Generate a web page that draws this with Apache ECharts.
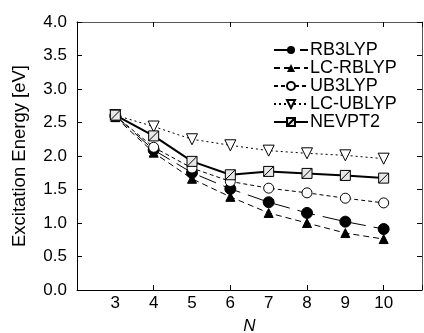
<!DOCTYPE html>
<html><head><meta charset="utf-8">
<script src="https://cdn.jsdelivr.net/npm/echarts@6/dist/echarts.min.js"></script>
<style>html,body{margin:0;padding:0;background:#fff}#c{width:424px;height:333px}</style>
</head><body><div id="c"></div>
<script>
var N = [3, 4, 5, 6, 7, 8, 9, 10];
var RB3LYP   = [2.60, 2.09, 1.75, 1.51, 1.31, 1.15, 1.02, 0.91];
var LC_RBLYP = [2.58, 2.05, 1.66, 1.39, 1.15, 1.00, 0.85, 0.76];
var UB3LYP   = [2.60, 2.13, 1.82, 1.62, 1.52, 1.45, 1.37, 1.30];
var LC_UBLYP = [2.61, 2.44, 2.25, 2.16, 2.08, 2.04, 2.01, 1.96];
var NEVPT2   = [2.61, 2.30, 1.92, 1.72, 1.77, 1.74, 1.71, 1.67];
var names = ['RB3LYP', 'LC-RBLYP', 'UB3LYP', 'LC-UBLYP', 'NEVPT2'];
var yTicks = ['0.0','0.5','1.0','1.5','2.0','2.5','3.0','3.5','4.0'];

function pairs(arr){ return N.map(function(n,i){ return [n, arr[i]]; }); }
var font = 'Liberation Sans, Arial, sans-serif';
var sq = 'path://M0,0 L10,0 L10,10 L0,10 Z M0,10 L10,0';

var chart = echarts.init(document.getElementById('c'));
chart.setOption({
  animation: false,
  backgroundColor: '#fff',
  grid: { left: 77, right: 2, top: 22, bottom: 43, containLabel: false, outerBoundsMode: 'none' },
  legend: {
    orient: 'vertical', left: 268, top: 36,
    itemWidth: 34, itemHeight: 10, itemGap: 0,
    textStyle: { fontFamily: font, fontSize: 18, lineHeight: 15.5, color: '#000', padding: [0,0,0,-3] },
    data: names
  },
  xAxis: [
    { type: 'value', min: 2, max: 11, interval: 1, position: 'bottom',
      axisLine: { lineStyle: { color: '#000', width: 1 } },
      axisTick: { show: false }, splitLine: { show: false },
      axisLabel: { fontFamily: font, fontSize: 17, color: '#000', margin: 5,
        formatter: function(v){ return (v >= 3 && v <= 10) ? String(v) : ''; } },
      name: 'N', nameLocation: 'middle', nameGap: 28,
      nameTextStyle: { fontFamily: font, fontSize: 17, fontStyle: 'italic', color: '#000' } },
    { type: 'value', min: 2, max: 11, interval: 2, position: 'bottom',
      axisLine: { show: false }, axisLabel: { show: false }, splitLine: { show: false },
      axisTick: { inside: true, length: 5, lineStyle: { color: '#000' } } },
    { type: 'value', min: 2, max: 11, interval: 2, position: 'top',
      axisLine: { show: true, lineStyle: { color: '#555' } }, axisLabel: { show: false }, splitLine: { show: false },
      axisTick: { inside: true, length: 5, lineStyle: { color: '#000' } } }
  ],
  yAxis: [
    { type: 'value', min: 0, max: 4, interval: 0.5, position: 'left',
      axisLine: { show: true, lineStyle: { color: '#000' } },
      axisTick: { show: true, inside: true, length: 5, lineStyle: { color: '#000' } },
      splitLine: { show: false },
      axisLabel: { fontFamily: font, fontSize: 17, color: '#000', margin: 10,
        formatter: function(v){ return yTicks[Math.round(v*2)]; } },
      name: 'Excitation Energy [eV]', nameLocation: 'middle', nameGap: 48,
      nameTextStyle: { fontFamily: font, fontSize: 18.5, color: '#000' } },
    { type: 'value', min: 0, max: 4, interval: 0.5, position: 'right',
      axisLine: { show: true, lineStyle: { color: '#555' } },
      axisTick: { show: true, inside: true, length: 5, lineStyle: { color: '#000' } },
      axisLabel: { show: false }, splitLine: { show: false } }
  ],
  series: [
    { name: 'RB3LYP', type: 'line', data: pairs(RB3LYP), z: 3,
      symbol: 'circle', symbolSize: 11,
      itemStyle: { color: '#000', borderColor: '#000' },
      lineStyle: { color: '#000', width: 1, type: [18, 8] } },
    { name: 'LC-RBLYP', type: 'line', data: pairs(LC_RBLYP), z: 2,
      symbol: 'triangle', symbolSize: 9,
      itemStyle: { color: '#000', borderColor: '#000' },
      lineStyle: { color: '#000', width: 1, type: [6, 4] } },
    { name: 'UB3LYP', type: 'line', data: pairs(UB3LYP), z: 4,
      symbol: 'circle', symbolSize: 10,
      itemStyle: { color: '#fff', borderColor: '#000', borderWidth: 1 },
      lineStyle: { color: '#000', width: 1, type: [4, 3] } },
    { name: 'LC-UBLYP', type: 'line', data: pairs(LC_UBLYP), z: 5,
      symbol: 'triangle', symbolRotate: 180, symbolSize: 11,
      itemStyle: { color: '#fff', borderColor: '#000', borderWidth: 1 },
      lineStyle: { color: '#000', width: 1, type: [2, 3] } },
    { name: 'NEVPT2', type: 'line', data: pairs(NEVPT2), z: 6,
      symbol: sq, symbolSize: 10,
      itemStyle: { color: '#e8e8e8', borderColor: '#000', borderWidth: 1 },
      lineStyle: { color: '#000', width: 2, type: 'solid' } }
  ]
});
</script></body></html>
